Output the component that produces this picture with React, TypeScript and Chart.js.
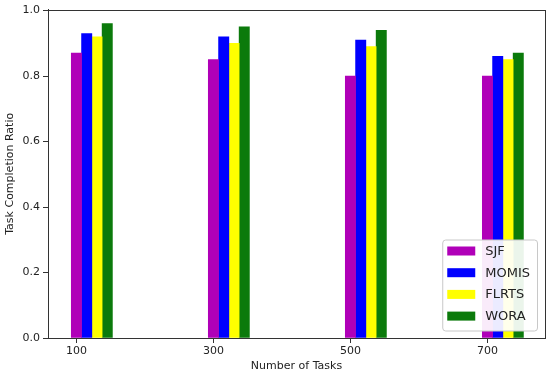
import React, { useEffect, useRef } from 'react';
import { Chart, registerables } from 'chart.js';

Chart.register(...registerables);

const categories = [100, 300, 500, 700];
const seriesNames = ['SJF', 'MOMIS', 'FLRTS', 'WORA'];
const sjf = [0.87, 0.85, 0.8, 0.8];
const momis = [0.93, 0.92, 0.91, 0.86];
const flrts = [0.92, 0.9, 0.89, 0.85];
const wora = [0.96, 0.95, 0.94, 0.87];
const yTicks = [0, 0.2, 0.4, 0.6, 0.8, 1.0];
const seriesColors = ['#b000b8', '#0000ff', '#ffff00', '#0b7a0b'];
const BAR_W = 15;

const FONT = "'DejaVu Sans', 'Liberation Sans', sans-serif";
const TEXT = '#222222';
const AXIS = '#333333';

const frameAndLegend = {
  id: 'frameAndLegend',
  afterDraw(chart: any) {
    const { ctx, chartArea } = chart;
    ctx.save();
    // full box spines
    ctx.strokeStyle = AXIS;
    ctx.lineWidth = 1;
    ctx.strokeRect(
      Math.round(chartArea.left) + 0.5,
      Math.round(chartArea.top) + 0.5,
      Math.round(chartArea.right - chartArea.left),
      Math.round(chartArea.bottom - chartArea.top)
    );

    // legend, lower right
    ctx.font = `13px ${FONT}`;
    const datasets = chart.data.datasets;
    let maxW = 0;
    datasets.forEach((d: any) => {
      maxW = Math.max(maxW, ctx.measureText(d.label).width);
    });
    const padL = 4.5;
    const sw = 28;
    const gap = 10;
    const padR = 7.5;
    const boxW = padL + sw + gap + maxW + padR;
    const rowH = 21.7;
    const boxH = 91;
    const right = chartArea.right - 7.5;
    const bottom = chartArea.bottom - 7;
    const left = right - boxW;
    const top = bottom - boxH;
    const r = 3;
    ctx.beginPath();
    ctx.moveTo(left + r, top);
    ctx.lineTo(right - r, top);
    ctx.arcTo(right, top, right, top + r, r);
    ctx.lineTo(right, bottom - r);
    ctx.arcTo(right, bottom, right - r, bottom, r);
    ctx.lineTo(left + r, bottom);
    ctx.arcTo(left, bottom, left, bottom - r, r);
    ctx.lineTo(left, top + r);
    ctx.arcTo(left, top, left + r, top, r);
    ctx.closePath();
    ctx.fillStyle = 'rgba(255,255,255,0.92)';
    ctx.fill();
    ctx.strokeStyle = '#c8c8c8';
    ctx.stroke();

    ctx.textBaseline = 'middle';
    ctx.textAlign = 'left';
    datasets.forEach((d: any, i: number) => {
      const cy = top + 11 + i * rowH;
      ctx.fillStyle = d.backgroundColor;
      ctx.fillRect(left + padL, cy - 4.5, sw, 9);
      ctx.fillStyle = TEXT;
      ctx.fillText(d.label, left + padL + sw + gap, cy + 0.5);
    });
    ctx.restore();
  },
};

export default function App() {
  const ref = useRef<HTMLCanvasElement | null>(null);

  useEffect(() => {
    if (!ref.current) return;
    const series = [sjf, momis, flrts, wora];
    const datasets = series.map((vals, i) => ({
      label: seriesNames[i],
      data: categories.map((c, j) => ({ x: c + i * BAR_W, y: vals[j] })),
      backgroundColor: seriesColors[i],
      borderWidth: 0,
      grouped: false,
      categoryPercentage: 1,
      barPercentage: 1,
    }));

    const chart = new Chart(ref.current, {
      type: 'bar',
      data: { datasets },
      plugins: [frameAndLegend],
      options: {
        animation: false,
        responsive: false,
        devicePixelRatio: 1,
        layout: { padding: { top: 7, right: 5, bottom: 0, left: 0 } },
        plugins: {
          legend: { display: false },
          tooltip: { enabled: false },
        },
        scales: {
          x: {
            type: 'linear',
            min: 58.5,
            max: 784,
            offset: false,
            afterFit: (s: any) => {
              s.height = 36;
            },
            afterBuildTicks: (s: any) => {
              s.ticks = categories.map((v) => ({ value: v }));
            },
            grid: {
              offset: false,
              drawOnChartArea: false,
              drawTicks: true,
              tickLength: 5,
              color: AXIS,
            },
            border: { display: true, color: AXIS, width: 1 },
            ticks: {
              padding: 2,
              color: TEXT,
              font: { family: FONT, size: 11 },
              maxRotation: 0,
              autoSkip: false,
              callback: (v: any) => String(v),
            },
            title: {
              display: true,
              text: 'Number of Tasks',
              color: TEXT,
              font: { family: FONT, size: 11 },
              padding: { top: 0, bottom: 1 },
            },
          },
          y: {
            type: 'linear',
            min: 0,
            max: 1.003,
            afterFit: (s: any) => {
              s.width = 48;
            },
            afterBuildTicks: (s: any) => {
              s.ticks = yTicks.map((v) => ({ value: v }));
            },
            grid: {
              drawOnChartArea: false,
              drawTicks: true,
              tickLength: 5,
              color: AXIS,
            },
            border: { display: true, color: AXIS, width: 1 },
            ticks: {
              padding: 3,
              color: TEXT,
              font: { family: FONT, size: 11 },
              callback: (v: any) => Number(v).toFixed(1),
            },
            title: {
              display: true,
              text: 'Task Completion Ratio',
              color: TEXT,
              font: { family: FONT, size: 11 },
              padding: { top: 4, bottom: 0 },
            },
          },
        },
      } as any,
    });
    return () => chart.destroy();
  }, []);

  return (
    <div style={{ position: 'absolute', left: 0, top: 0, width: 550, height: 374, background: '#fff' }}>
      <canvas ref={ref} width={550} height={374} style={{ display: 'block' }} />
    </div>
  );
}
